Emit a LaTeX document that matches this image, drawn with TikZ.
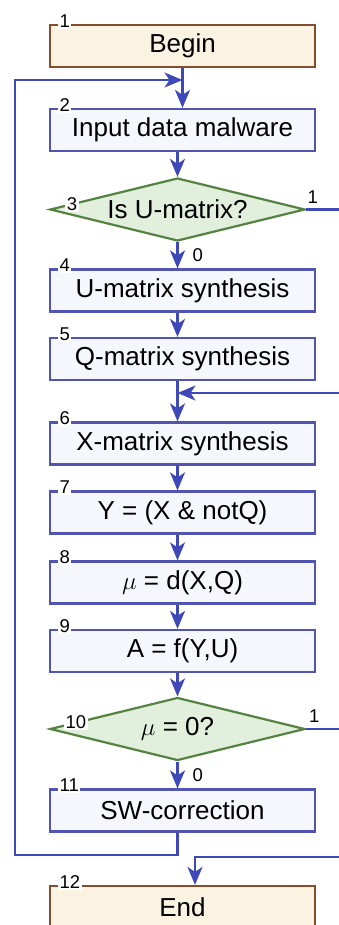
\documentclass[tikz,border=0pt]{standalone}
\usepackage{fontspec}
\setmainfont{Liberation Sans}
\usetikzlibrary{arrows.meta, calc, shapes.geometric}

\definecolor{boxblue}{RGB}{82,84,178}
\definecolor{boxfill}{RGB}{245,247,253}
\definecolor{arrblue}{RGB}{62,72,182}
\definecolor{termbrown}{RGB}{135,75,45}
\definecolor{termfill}{RGB}{251,243,226}
\definecolor{condgreen}{RGB}{84,130,64}
\definecolor{condfill}{RGB}{226,239,221}

\begin{document}
\begin{tikzpicture}[x=1pt, y=-1pt,
    every node/.style={font=\fontsize{26}{30}\selectfont},
    blk/.style={draw=boxblue, line width=2.2pt, fill=boxfill, minimum width=265pt, minimum height=42pt, inner sep=0pt},
    term/.style={blk, draw=termbrown, fill=termfill},
    cond/.style={diamond, aspect=4, draw=condgreen, fill=condfill, line width=2.2pt, minimum width=255pt, minimum height=63pt, inner sep=0pt},
    num/.style={font=\fontsize{18.5}{20}\selectfont, fill=white, inner sep=1.5pt},
    lbl/.style={font=\fontsize{18.5}{20}\selectfont, inner sep=2pt},
    ln/.style={draw=arrblue, line width=2.2pt},
    arr/.style={ln, -{Stealth[length=18pt, width=15pt, inset=5pt]}}]
    \useasboundingbox (0,0) rectangle (339,925);

    % Main column
    \node[term] (b1) at (182.5, 46) {Begin};
    \node[blk] (b2) at (182.5, 130) {Input data malware};
    \node[cond] (d3) at (177.5, 209.5) {Is U-matrix?};
    \node[blk] (b4) at (182.5, 290.5) {U-matrix synthesis};
    \node[blk] (b5) at (182.5, 359) {Q-matrix synthesis};
    \node[blk] (b6) at (182.5, 443.5) {X-matrix synthesis};
    \node[blk] (b7) at (182.5, 512.5) {Y = (X \& notQ)};
    \node[blk] (b8) at (182.5, 582.5) {$\mu$ = d(X,Q)};
    \node[blk] (b9) at (182.5, 651) {A = f(Y,U)};
    \node[cond] (d10) at (177.5, 729) {$\mu$ = 0?};
    \node[blk] (b11) at (182.5, 810.5) {SW-correction};
    \node[term] (b12) at (182.5, 907) {End};

    % Numbers
    \foreach \n in {1,2,4,5,6,7,8,9,11,12}
        \node[num, anchor=west] at ($(b\n.north west)+(9,-3)$) {\n};
    \node[num] at ($(d3.west)!0.18!(d3.north)$) {3};
    \node[num] at ($(d10.west)!0.21!(d10.north)$) {10};

    % Helper coordinates
    \coordinate (ax) at (177.5, 0);
    \coordinate (rt) at (339, 0);
    \coordinate (jn) at (182.5, 80);
    \coordinate (in1) at (339, 393);
    \coordinate (in2) at (339, 857);
    \coordinate (ex) at (195, 0);

    % Flow
    \draw[arr] (b1.south) -- (b2.north);
    \draw[arr] (b2.south -| ax) -- (d3.north);
    \draw[arr] (d3.south) -- node[lbl, right=12pt] {0} (b4.north -| ax);
    \draw[arr] (b4.south -| ax) -- (b5.north -| ax);
    \draw[arr] (b5.south -| ax) -- (b6.north -| ax);
    \draw[arr] (b6.south -| ax) -- (b7.north -| ax);
    \draw[arr] (b7.south -| ax) -- (b8.north -| ax);
    \draw[arr] (b8.south -| ax) -- (b9.north -| ax);
    \draw[arr] (b9.south -| ax) -- (d10.north);
    \draw[arr] (d10.south) -- node[lbl, right=12pt] {0} (b11.north -| ax);

    % Branches
    \draw[ln] (d3.east) -- node[lbl, pos=0.2, above=3pt] {1} (d3.east -| rt);
    \draw[ln] (d10.east) -- node[lbl, pos=0.25, above=3pt] {1} (d10.east -| rt);
    \draw[arr] (in1) -- (in1 -| ax);
    \draw[arr] (in2) -| (b12.north -| ex);

    % Loop back
    \draw[arr] (b11.south -| ax) |- (15, 855) |- (jn);
\end{tikzpicture}
\end{document}
